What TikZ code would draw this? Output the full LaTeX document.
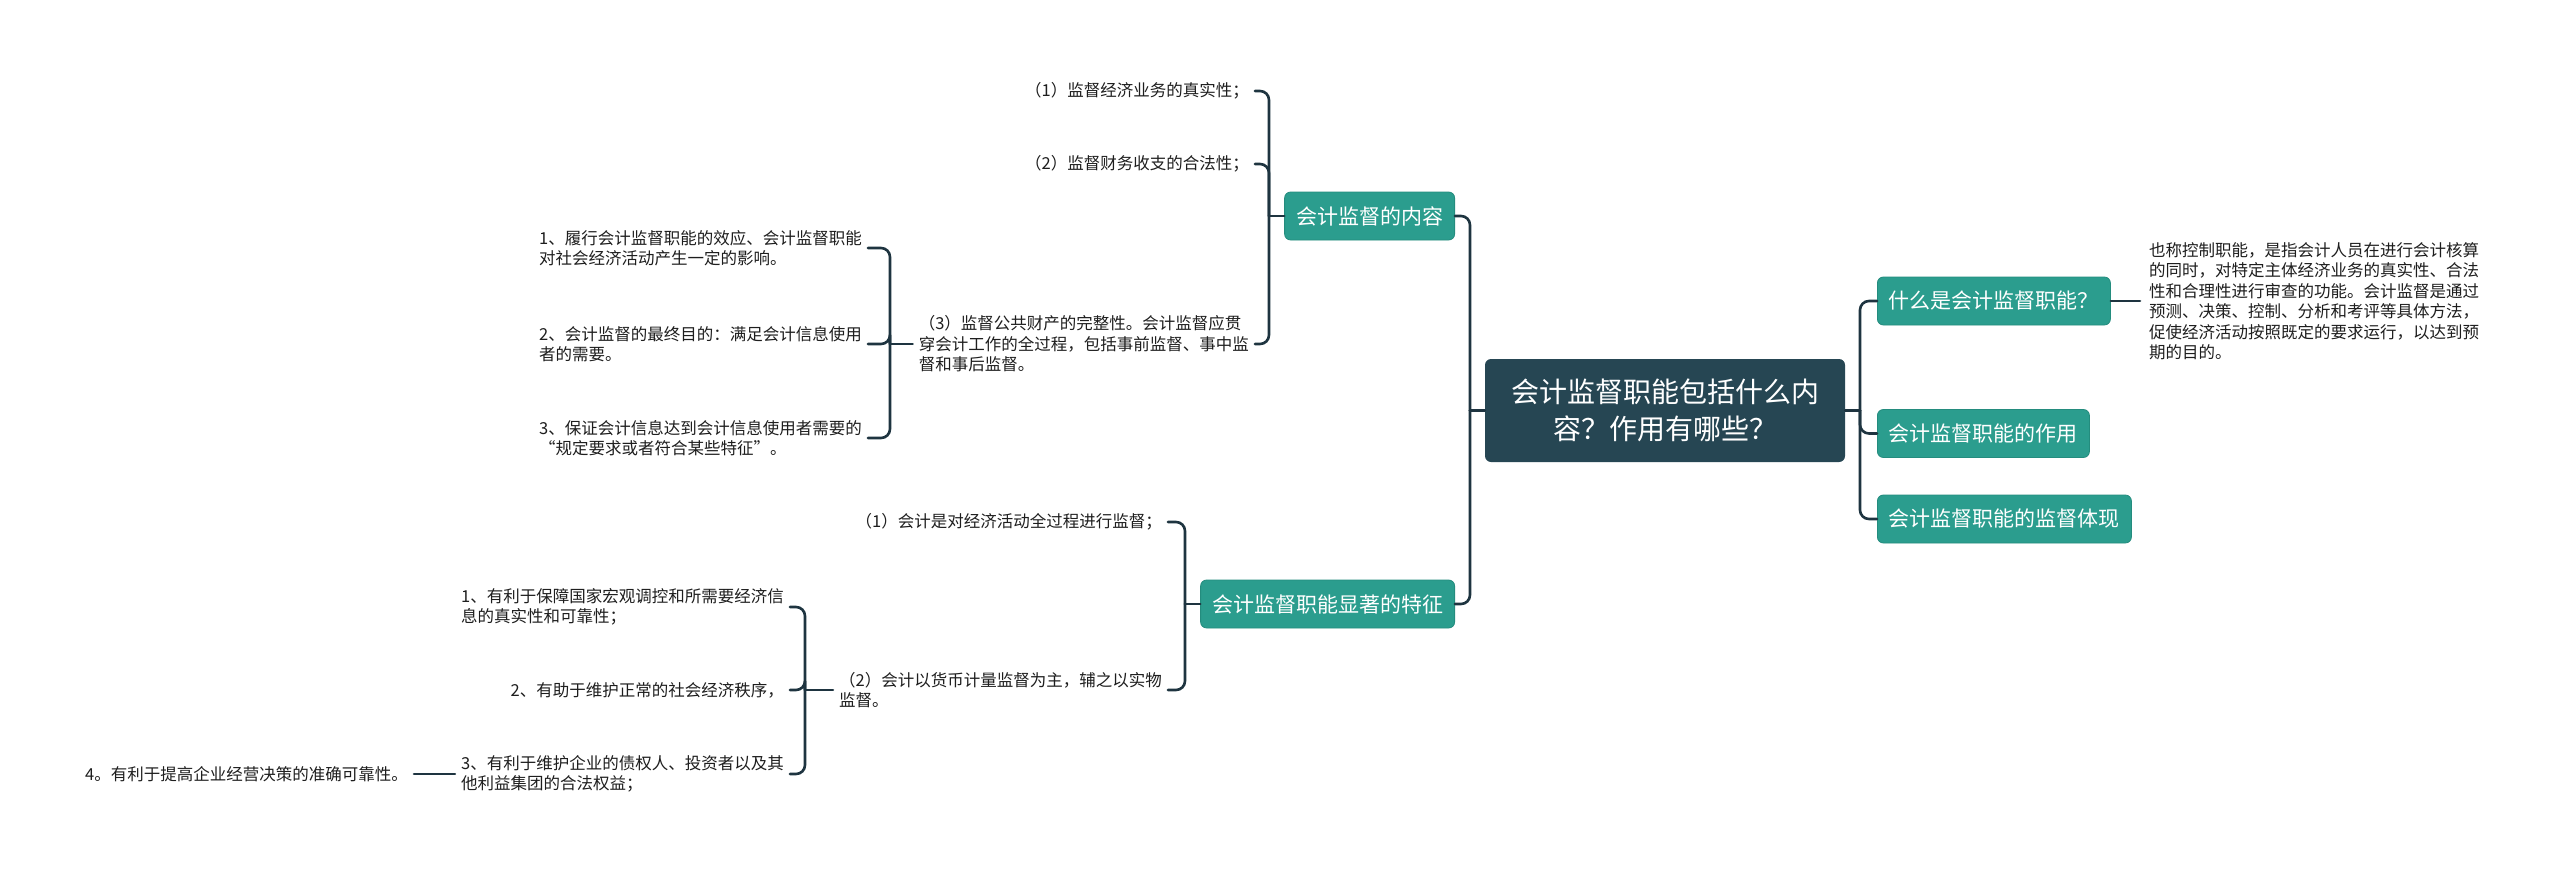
\documentclass[tikz,border=0pt]{standalone}
\usepackage{fontspec}
\newfontfamily\cjk{Noto Sans CJK SC}
\definecolor{rootcol}{RGB}{38,70,83}
\definecolor{tealcol}{RGB}{43,157,142}
\definecolor{tealborder}{RGB}{36,140,126}
\definecolor{linecol}{RGB}{30,52,64}
\definecolor{textcol}{RGB}{30,30,30}
\begin{document}
\begin{tikzpicture}[x=1pt,y=-1pt,
  conn/.style={draw=linecol, line width=2.6pt, line cap=round},
  curve/.style={conn, rounded corners=9pt},
  rootbox/.style={fill=rootcol, rounded corners=6pt, text=white, font=\cjk\fontsize{28}{37}\selectfont, align=center, minimum width=360pt, minimum height=103pt, inner sep=0pt},
  topic/.style={fill=tealcol, draw=tealborder, line width=0.8pt, rounded corners=6pt, text=white, font=\cjk\fontsize{21}{25}\selectfont, minimum height=48pt, inner xsep=11.5pt, inner ysep=0pt},
  leaf/.style={text=textcol, font=\cjk\fontsize{16.5}{20.5}\selectfont, align=left, inner xsep=6pt, inner ysep=2pt},
]
\useasboundingbox (0,0) rectangle (2560,873);
\fill[white] (0,0) rectangle (2560,873);

% root
\node[rootbox] (root) at (1665,410.5) {会计监督职能包括什么内\\容？作用有哪些？};

% right side
\node[topic, anchor=west] (what) at (1877,301) {什么是会计监督职能？};
\node[topic, anchor=west] (role) at (1877,433.5) {会计监督职能的作用};
\node[topic, anchor=west] (show) at (1877,519) {会计监督职能的监督体现};
\node[leaf, anchor=west, inner xsep=9pt] (desc) at (2140,301) {也称控制职能，是指会计人员在进行会计核算\\的同时，对特定主体经济业务的真实性、合法\\性和合理性进行审查的功能。会计监督是通过\\预测、决策、控制、分析和考评等具体方法，\\促使经济活动按照既定的要求运行，以达到预\\期的目的。};

% left side topics
\node[topic, anchor=east] (content) at (1455,216) {会计监督的内容};
\node[topic, anchor=east] (feat) at (1455,604) {会计监督职能显著的特征};

% content children
\node[leaf, anchor=east] (c1) at (1255,91) {（1）监督经济业务的真实性；};
\node[leaf, anchor=east] (c2) at (1255,164) {（2）监督财务收支的合法性；};
\node[leaf, anchor=east] (c3) at (1255,344) {（3）监督公共财产的完整性。会计监督应贯\\穿会计工作的全过程，包括事前监督、事中监\\督和事后监督。};

\node[leaf, anchor=east] (g1) at (868,248) {1、履行会计监督职能的效应、会计监督职能\\对社会经济活动产生一定的影响。};
\node[leaf, anchor=east] (g2) at (868,344) {2、会计监督的最终目的：满足会计信息使用\\者的需要。};
\node[leaf, anchor=east] (g3) at (868,438) {3、保证会计信息达到会计信息使用者需要的\\“规定要求或者符合某些特征”。};

% feature children
\node[leaf, anchor=east] (d1) at (1168,522) {（1）会计是对经济活动全过程进行监督；};
\node[leaf, anchor=east] (d2) at (1168,690) {（2）会计以货币计量监督为主，辅之以实物\\监督。};

\node[leaf, anchor=east] (e1) at (790,607) {1、有利于保障国家宏观调控和所需要经济信\\息的真实性和可靠性；};
\node[leaf, anchor=east] (e2) at (790,690) {2、有助于维护正常的社会经济秩序，};
\node[leaf, anchor=east] (e3) at (790,774) {3、有利于维护企业的债权人、投资者以及其\\他利益集团的合法权益；};
\node[leaf, anchor=east] (f1) at (414,774) {4。有利于提高企业经营决策的准确可靠性。};

% connectors: root
\coordinate (sl) at (1470,410.5);
\coordinate (sr) at (1860,410.5);
\draw[conn] (root.west) -- (sl);
\draw[curve] (sl) |- (content.east);
\draw[curve] (sl) |- (feat.east);
\draw[conn] (root.east) -- (sr);
\draw[curve] (sr) |- (what.west);
\draw[curve] (sr) |- (role.west);
\draw[curve] (sr) |- (show.west);
\draw[conn] (what.east) -- (desc.west);

% content
\coordinate (s1) at (1269,216);
\draw[conn] (content.west) -- (s1);
\draw[curve] (s1) |- (c1.east);
\draw[curve] (s1) |- (c2.east);
\draw[curve] (s1) |- (c3.east);

\coordinate (s2) at (890,344);
\draw[conn] (c3.west) -- (s2);
\draw[curve] (s2) |- (g1.east);
\draw[curve] (s2) |- (g2.east);
\draw[curve] (s2) |- (g3.east);

% features
\coordinate (s3) at (1185,604);
\draw[conn] (feat.west) -- (s3);
\draw[curve] (s3) |- (d1.east);
\draw[curve] (s3) |- (d2.east);

\coordinate (s4) at (805,690);
\draw[conn] (d2.west) -- (s4);
\draw[curve] (s4) |- (e1.east);
\draw[curve] (s4) |- (e2.east);
\draw[curve] (s4) |- (e3.east);
\draw[conn] (e3.west) -- (f1.east);
\end{tikzpicture}
\end{document}
